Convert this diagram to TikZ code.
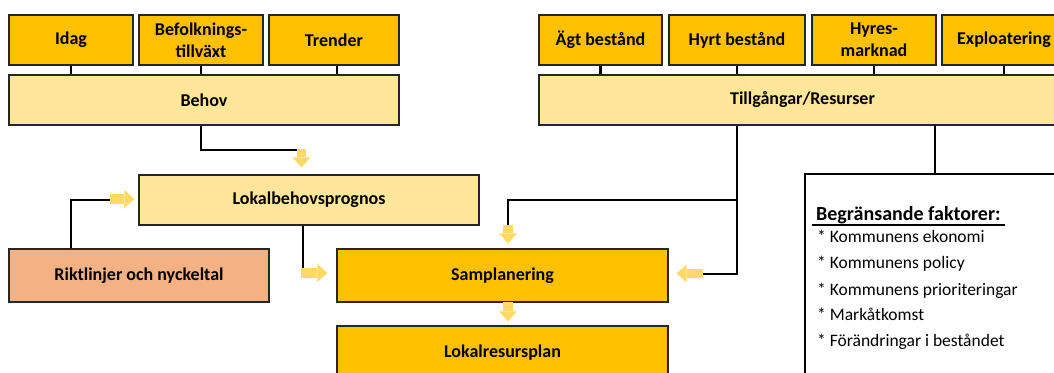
\documentclass[tikz,border=0pt]{standalone}
\usepackage{fontspec}
\setmainfont{Carlito}
\usetikzlibrary{arrows.meta}
\definecolor{darky}{HTML}{FFC000}
\definecolor{lighty}{HTML}{FFE699}
\definecolor{salmon}{HTML}{F4B183}
\definecolor{arrowc}{HTML}{FFD966}
\tikzset{
  boxbase/.style={draw=black!85, line width=1.3pt, inner sep=0pt, align=center,
    font=\fontsize{18}{22}\selectfont\bfseries},
  dbox/.style={boxbase, fill=darky},
  lbox/.style={boxbase, fill=lighty},
  sbox/.style={boxbase, fill=salmon},
  conn/.style={draw=black, line width=2.4pt},
  yarrow/.style={draw=arrowc, line width=9.5pt,
    -{Triangle[length=10pt,width=18pt,line width=0pt]}},
  listtxt/.style={anchor=base west, inner sep=0pt, font=\fontsize{17.5}{21}\selectfont},
}
\begin{document}
\begin{tikzpicture}[x=1pt,y=-1pt]
\useasboundingbox (0,0) rectangle (1054,372);
\clip (0,0) rectangle (1054,372);
\fill[white] (0,0) rectangle (1054,372);
% top left group
\node[dbox, minimum width=124pt, minimum height=50pt] (idag) at (71,40) {Idag};
\node[dbox, minimum width=124pt, minimum height=50pt] (befolk) at (201,40) {Befolknings-\\tillväxt};
\node[dbox, minimum width=130pt, minimum height=50pt] (trender) at (334,40) {Trender};
\node[lbox, minimum width=390pt, minimum height=50pt] (behov) at (204,100) {Behov};
% top right group
\node[dbox, minimum width=123pt, minimum height=50pt] (agt) at (600.5,40) {Ägt bestånd};
\node[dbox, minimum width=136pt, minimum height=50pt] (hyrt) at (737,40) {Hyrt bestånd};
\node[dbox, minimum width=124pt, minimum height=50pt] (hyres) at (874,40) {Hyres-\\marknad};
\node[dbox, minimum width=124pt, minimum height=50pt] (expl) at (1004,40) {Exploatering};
\node[lbox, minimum width=527pt, minimum height=50pt] (tillg) at (802.5,100) {Tillgångar/Resurser};
% middle
\node[lbox, minimum width=340pt, minimum height=50pt] (lokb) at (309,200) {Lokalbehovsprognos};
\node[sbox, minimum width=260pt, minimum height=53pt] (rikt) at (139,275.5) {Riktlinjer och nyckeltal};
\node[dbox, minimum width=331pt, minimum height=53pt] (samp) at (502.5,275.5) {Samplanering};
\node[dbox, minimum width=331pt, minimum height=54pt] (lokr) at (502.5,353) {Lokalresursplan};
% limiting factors box
\node[draw=black, line width=2.2pt, fill=white, minimum width=300pt, minimum height=260pt, anchor=north west] (begr) at (804,173) {};
\node[listtxt, font=\fontsize{20}{24}\selectfont\bfseries] (bh) at (816,220) {Begränsande faktorer:};
\draw[line width=1.6pt] (812,225) -- (1005,225);
\node[listtxt] (i1) at (817,242) {* Kommunens ekonomi};
\node[listtxt] (i2) at (817,268) {* Kommunens policy};
\node[listtxt] (i3) at (817,295) {* Kommunens prioriteringar};
\node[listtxt] (i4) at (817,320) {* Markåtkomst};
\node[listtxt] (i5) at (817,346) {* Förändringar i beståndet};
% ticks
\foreach \n in {idag,befolk,agt,hyrt,hyres,expl}{
  \draw[conn] (\n.south) -- (\n.south |- behov.north);
}
\draw[conn] ([xshift=3pt]trender.south) -- ([xshift=3pt]trender.south |- behov.north);
% coordinates
\coordinate (c1) at (304,150);
\coordinate (a1) at (301.5,149);
\coordinate (c2) at (112,200);
\coordinate (a2) at (110,199);
\coordinate (c3) at (303,271);
\coordinate (a3) at (301,273);
\coordinate (c4) at (703,274);
\coordinate (a4) at (703,273.5);
\coordinate (c5) at (737,200);
\coordinate (a5) at (508,225);
\coordinate (a6) at (508,302);
\coordinate (c6) at (935,125);
% black connectors
\draw[conn] (befolk.south |- behov.south) |- (c1);
\draw[conn] (rikt.north -| idag.south) |- (c2);
\draw[conn] ([xshift=-6pt]lokb.south) -- (c3);
\draw[conn] (tillg.south -| hyrt.south) |- (c4);
\draw[conn] (c5) -| (a5);
\draw[conn] (c6) -- (begr.north -| c6);
% yellow block arrows
\draw[yarrow, shorten >=7pt] (a1) -- (a1 |- lokb.north);
\draw[yarrow, shorten >=4pt] (a2) -- (a2 -| lokb.west);
\draw[yarrow, shorten >=9pt] (a3) -- (a3 -| samp.west);
\draw[yarrow, shorten >=8pt] (a4) -- (a4 -| samp.east);
\draw[yarrow, shorten >=5pt] (a5) -- (a5 |- samp.north);
\draw[yarrow, shorten >=4pt] (a6) -- (a6 |- lokr.north);
\end{tikzpicture}
\end{document}
